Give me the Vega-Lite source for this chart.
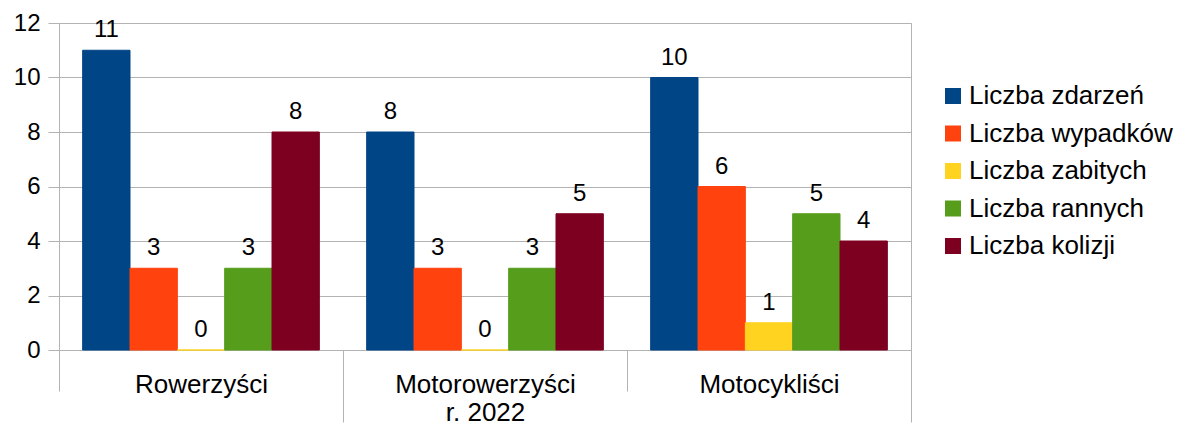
{
  "$schema": "https://vega.github.io/schema/vega-lite/v6.json",
  "autosize": {"type": "none"},
  "padding": {"left": 59, "top": 23, "right": 266, "bottom": 75},
  "width": 852,
  "height": 327,
  "background": "white",
  "config": {
    "font": "Liberation Sans",
    "view": {"stroke": "#b3b3b3", "strokeWidth": 1},
    "axis": {"labelFont": "Liberation Sans", "labelColor": "#000000"},
    "legend": {"labelFont": "Liberation Sans"}
  },
  "data": {
    "values": [
      {"grupa": "Rowerzyści", "seria": "Liczba zdarzeń", "wartosc": 11},
      {"grupa": "Rowerzyści", "seria": "Liczba wypadków", "wartosc": 3},
      {"grupa": "Rowerzyści", "seria": "Liczba zabitych", "wartosc": 0},
      {"grupa": "Rowerzyści", "seria": "Liczba rannych", "wartosc": 3},
      {"grupa": "Rowerzyści", "seria": "Liczba kolizji", "wartosc": 8},
      {"grupa": "Motorowerzyści r. 2022", "seria": "Liczba zdarzeń", "wartosc": 8},
      {"grupa": "Motorowerzyści r. 2022", "seria": "Liczba wypadków", "wartosc": 3},
      {"grupa": "Motorowerzyści r. 2022", "seria": "Liczba zabitych", "wartosc": 0},
      {"grupa": "Motorowerzyści r. 2022", "seria": "Liczba rannych", "wartosc": 3},
      {"grupa": "Motorowerzyści r. 2022", "seria": "Liczba kolizji", "wartosc": 5},
      {"grupa": "Motocykliści", "seria": "Liczba zdarzeń", "wartosc": 10},
      {"grupa": "Motocykliści", "seria": "Liczba wypadków", "wartosc": 6},
      {"grupa": "Motocykliści", "seria": "Liczba zabitych", "wartosc": 1},
      {"grupa": "Motocykliści", "seria": "Liczba rannych", "wartosc": 5},
      {"grupa": "Motocykliści", "seria": "Liczba kolizji", "wartosc": 4}
    ]
  },
  "encoding": {
    "x": {
      "field": "grupa",
      "type": "nominal",
      "sort": ["Rowerzyści", "Motorowerzyści r. 2022", "Motocykliści"],
      "scale": {"paddingInner": 0, "paddingOuter": 0},
      "axis": {
        "title": null,
        "domain": false,
        "grid": false,
        "tickBand": "extent",
        "tickColor": "#b3b3b3",
        "tickWidth": 1,
        "tickSize": {"condition": {"test": "datum.value == 'Rowerzyści' || datum.index >= 0.99", "value": 72}, "value": 41},
        "labelAngle": 0,
        "labelFontSize": 26,
        "labelLimit": 320,
        "labelPadding": {"condition": {"test": "datum.value == 'Rowerzyści' || datum.index >= 0.99", "value": -50.5}, "value": -19.5},
        "labelBaseline": "top",
        "labelLineHeight": 28,
        "labelExpr": "datum.label == 'Motorowerzyści r. 2022' ? ['Motorowerzyści', 'r. 2022'] : datum.label"
      }
    },
    "xOffset": {
      "field": "seria",
      "type": "nominal",
      "sort": ["Liczba zdarzeń", "Liczba wypadków", "Liczba zabitych", "Liczba rannych", "Liczba kolizji"],
      "scale": {"paddingInner": 0, "paddingOuter": 0.5}
    },
    "y": {
      "field": "wartosc",
      "type": "quantitative",
      "scale": {"domain": [0, 12], "nice": false},
      "axis": {
        "title": null,
        "domain": false,
        "values": [0, 2, 4, 6, 8, 10, 12],
        "grid": true,
        "gridColor": "#b3b3b3",
        "gridWidth": 1,
        "tickColor": "#b3b3b3",
        "tickSize": 11,
        "labelFontSize": 24,
        "labelPadding": 8
      }
    }
  },
  "layer": [
    {
      "mark": {"type": "bar", "strokeWidth": 1},
      "encoding": {
        "color": {
          "field": "seria",
          "type": "nominal",
          "sort": ["Liczba zdarzeń", "Liczba wypadków", "Liczba zabitych", "Liczba rannych", "Liczba kolizji"],
          "scale": {"range": ["#004586", "#ff420e", "#ffd320", "#579d1c", "#7e0021"]},
          "legend": {
            "title": null,
            "orient": "none",
            "legendX": 881,
            "legendY": 60,
            "padding": 0,
            "symbolType": "square",
            "symbolSize": 256,
            "symbolStrokeWidth": 0,
            "labelFontSize": 26,
            "labelColor": "#000000",
            "labelOffset": 3,
            "rowPadding": 11.5,
            "labelLimit": 400
          }
        },
        "stroke": {
          "field": "seria",
          "type": "nominal",
          "sort": ["Liczba zdarzeń", "Liczba wypadków", "Liczba zabitych", "Liczba rannych", "Liczba kolizji"],
          "scale": {"range": ["#004586", "#ff420e", "#ffd320", "#579d1c", "#7e0021"]},
          "legend": null
        }
      }
    },
    {
      "mark": {"type": "text", "baseline": "alphabetic", "dy": -13, "fontSize": 24, "font": "Liberation Sans", "color": "#000000"},
      "encoding": {
        "text": {"field": "wartosc", "type": "quantitative"}
      }
    }
  ]
}
